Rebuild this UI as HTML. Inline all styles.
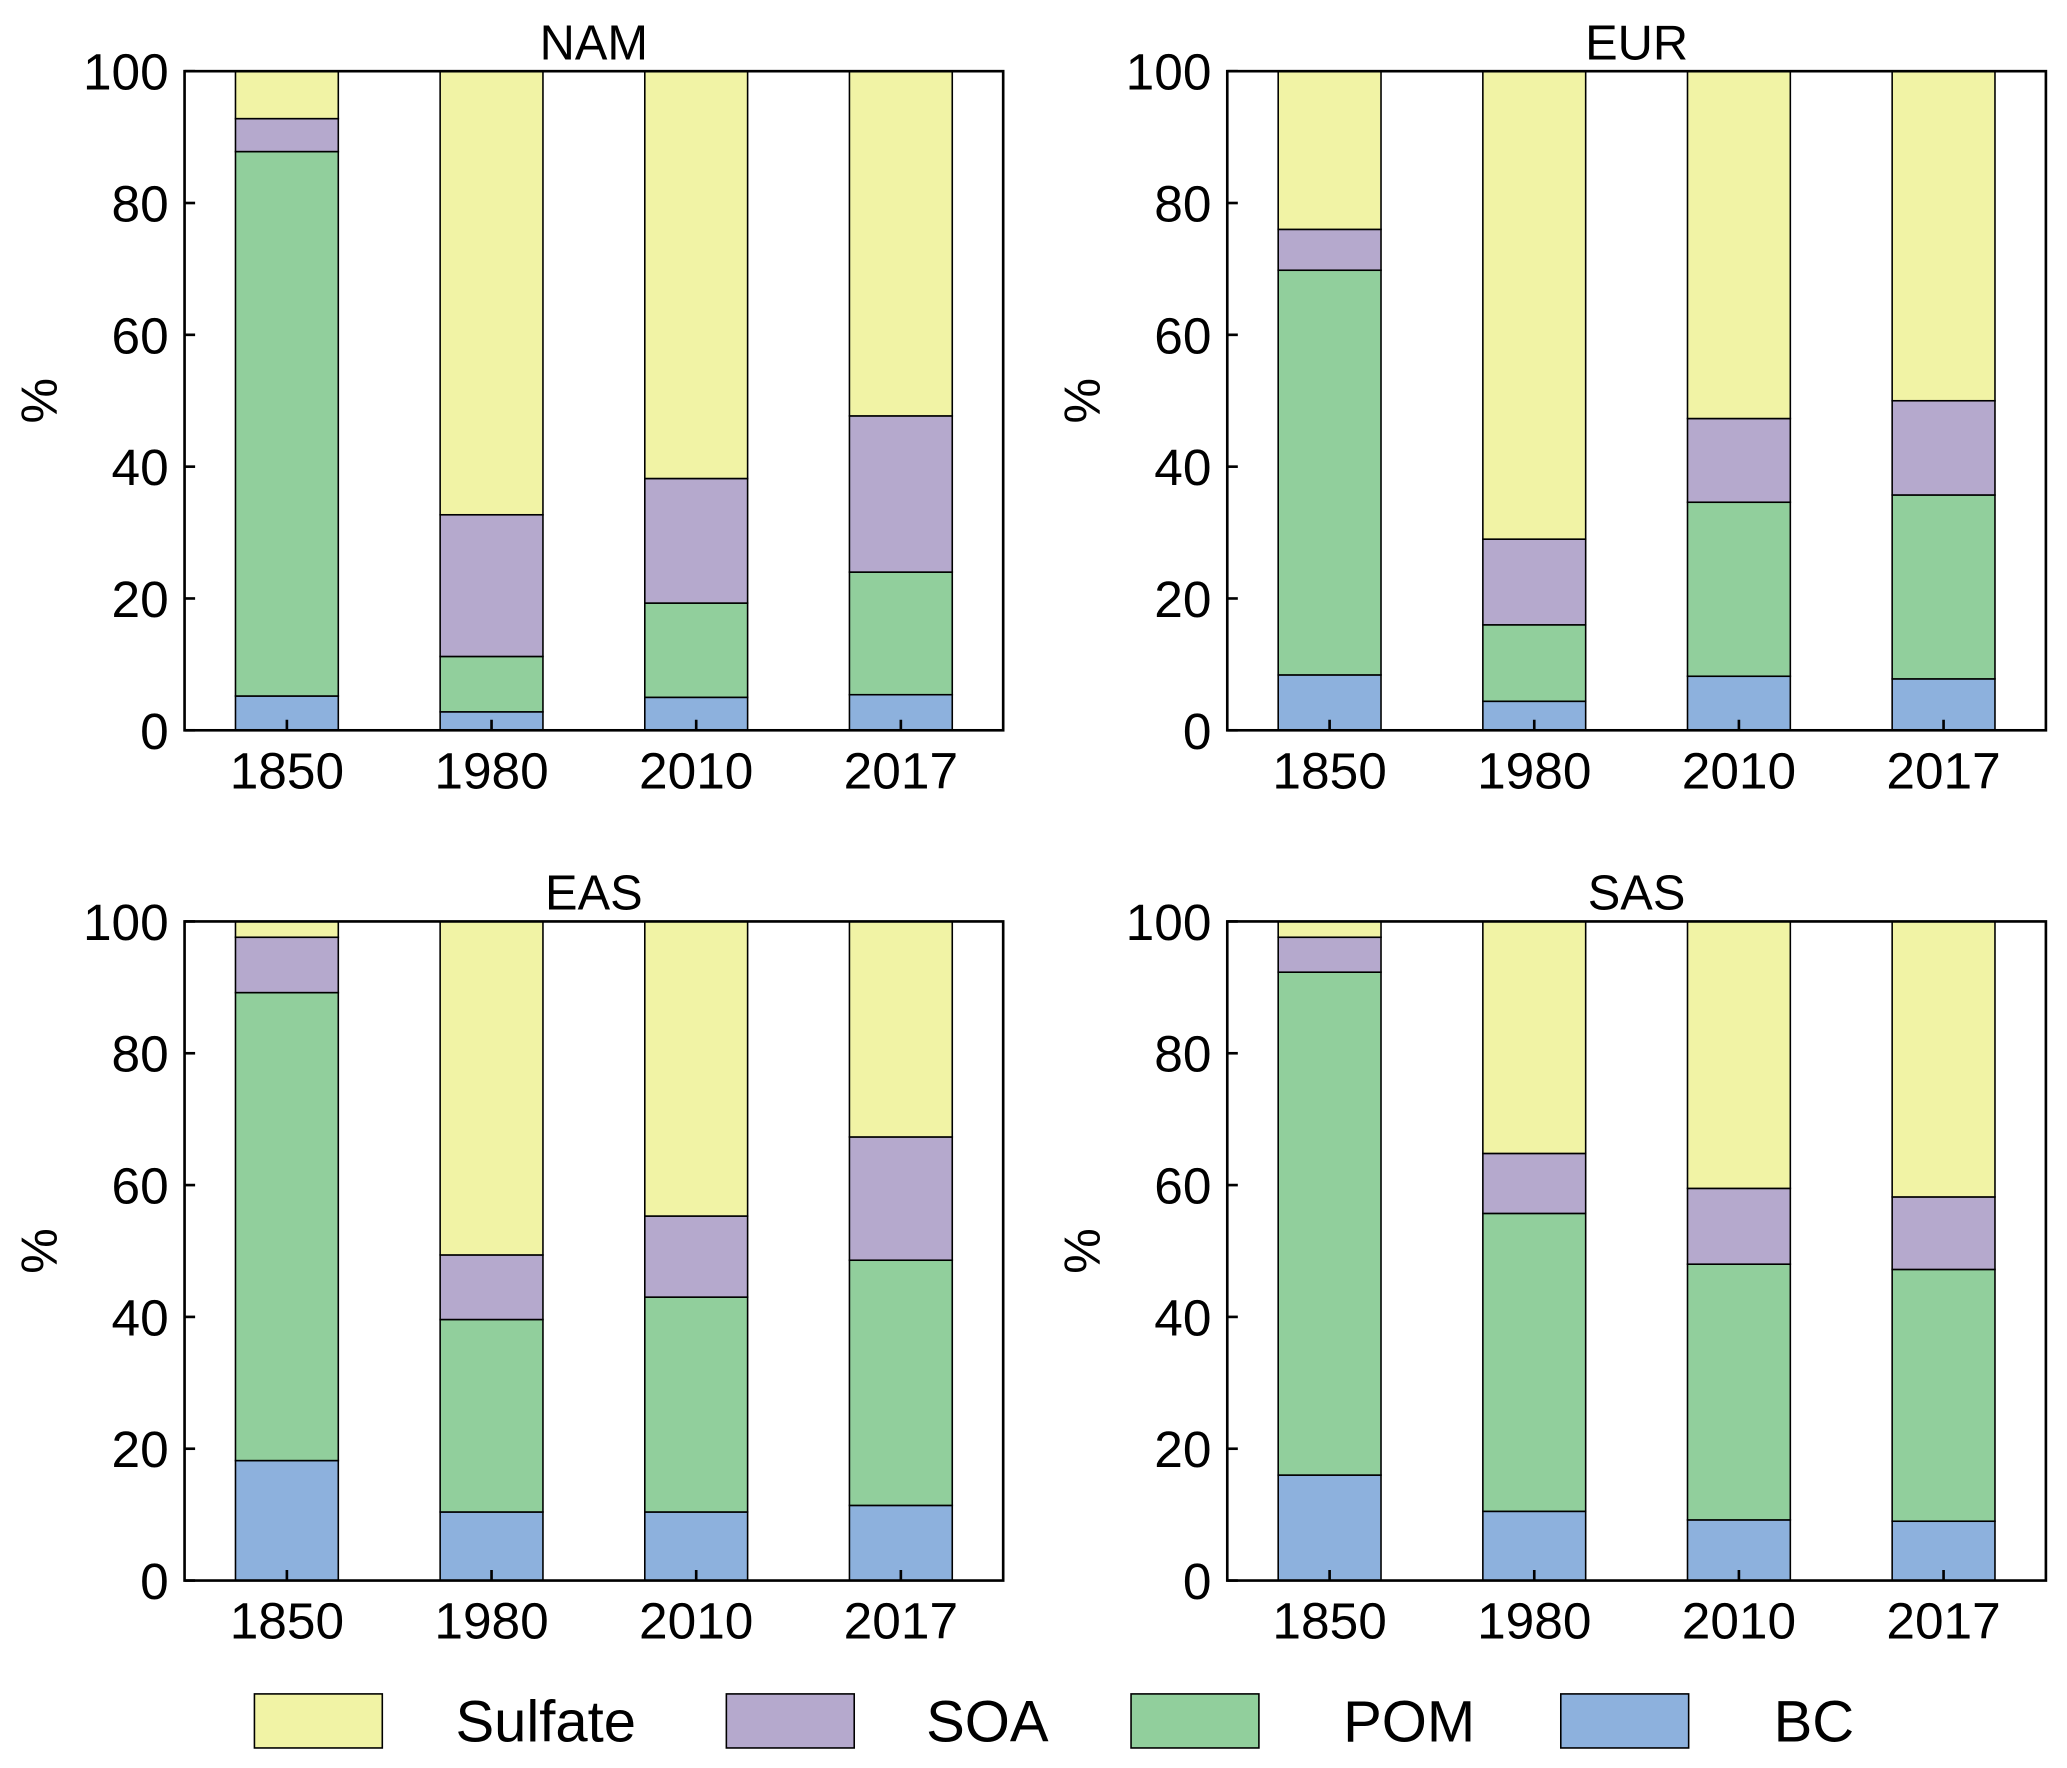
<!DOCTYPE html>
<html><head><meta charset="utf-8"><style>
html,body{margin:0;padding:0;background:#fff;}
svg{display:block;font-family:"Liberation Sans",Arial,sans-serif;}
</style></head><body>
<svg id="chart" width="2067" height="1768" viewBox="0 0 1568 1341.2" xmlns="http://www.w3.org/2000/svg"></svg>
<script>
const years = ["1850","1980","2010","2017"];
const regions = ["NAM","EUR","EAS","SAS"];
const species = ["BC","POM","SOA","Sulfate"];
const yTicks = [0,20,40,60,80,100];
// stacked component values (%), per region: BC, POM, SOA, Sulfate
const bcNAM = [5.2,2.8,5.0,5.4];
const pomNAM = [82.6,8.4,14.3,18.6];
const soaNAM = [5.0,21.5,18.9,23.7];
const sulNAM = [7.2,67.3,61.8,52.3];
const bcEUR = [8.4,4.4,8.2,7.8];
const pomEUR = [61.4,11.6,26.4,27.9];
const soaEUR = [6.2,13.0,12.7,14.3];
const sulEUR = [24.0,71.0,52.7,50.0];
const bcEAS = [18.2,10.4,10.4,11.4];
const pomEAS = [71.0,29.2,32.6,37.2];
const soaEAS = [8.4,9.8,12.3,18.7];
const sulEAS = [2.4,50.6,44.7,32.7];
const bcSAS = [16.0,10.5,9.2,9.0];
const pomSAS = [76.3,45.2,38.8,38.2];
const soaSAS = [5.3,9.1,11.5,11.0];
const sulSAS = [2.4,35.2,40.5,41.8];

const dataByRegion = {
  NAM:[bcNAM,pomNAM,soaNAM,sulNAM],
  EUR:[bcEUR,pomEUR,soaEUR,sulEUR],
  EAS:[bcEAS,pomEAS,soaEAS,sulEAS],
  SAS:[bcSAS,pomSAS,soaSAS,sulSAS]
};
const colors = {BC:"#8db1dd",POM:"#91cf9c",SOA:"#b5a9cd",Sulfate:"#f1f3a5"};
const panels = [
  {r:"NAM",x0:140,x1:761,y0:54,y1:554},
  {r:"EUR",x0:931,x1:1552,y0:54,y1:554},
  {r:"EAS",x0:140,x1:761,y0:699,y1:1199},
  {r:"SAS",x0:931,x1:1552,y0:699,y1:1199}
];
const NS="http://www.w3.org/2000/svg";
const svg=document.getElementById('chart');
function mk(tag,attrs,parent){const e=document.createElementNS(NS,tag);for(const k in attrs)e.setAttribute(k,attrs[k]);(parent||svg).appendChild(e);return e;}

panels.forEach(p=>{
  const g=mk('g',{});
  
  
  const yS=v=>p.y1-(v/100)*(p.y1-p.y0);
  const step=(p.x1-p.x0)/years.length;
  const xS=i=>p.x0+step*(i+0.5);
  const bw=78;
  const d=dataByRegion[p.r];
  years.forEach((yr,i)=>{
    let cum=0;
    species.forEach((sp,k)=>{
      const v=d[k][i];
      const r=mk('rect',{x:xS(i)-bw/2,y:yS(cum+v),width:bw,height:yS(cum)-yS(cum+v),fill:colors[sp],stroke:"#000","stroke-width":1.2},g);
      
      
      cum+=v;
    });
    const t=mk('text',{x:xS(i),y:p.y1+44,"text-anchor":"middle","font-size":39},g);
    t.textContent=yr;
    
    
  });
  const fr=mk('rect',{x:p.x0,y:p.y0,width:p.x1-p.x0,height:p.y1-p.y0,fill:"none",stroke:"#000","stroke-width":2},g);
  
  
  yTicks.forEach(v=>{
    mk('line',{x1:p.x0,x2:p.x0+8,y1:yS(v),y2:yS(v),stroke:"#000","stroke-width":2},g);
    const t=mk('text',{x:p.x0-12,y:yS(v)+14,"text-anchor":"end","font-size":39},g);
    t.textContent=v;
    
    
  });
  for(let i=0;i<years.length;i++){mk('line',{x1:xS(i),x2:xS(i),y1:p.y1,y2:p.y1-8,stroke:"#000","stroke-width":2},g);}
  const yl=mk('text',{x:0,y:0,"text-anchor":"middle","font-size":39,transform:`translate(${p.x0-97},${(p.y0+p.y1)/2}) rotate(-90)`},g);
  yl.textContent="%";
  
  
  const tt=mk('text',{x:(p.x0+p.x1)/2,y:p.y0-9,"text-anchor":"middle","font-size":37},g);
  tt.textContent=p.r;
  
  
});

const legendItems=[["Sulfate",193,414],["SOA",551,749],["POM",858,1069],["BC",1184,1376]];
legendItems.forEach(([n,bx,tx])=>{
  const g=mk('g',{});
  
  
  mk('rect',{x:bx,y:1285,width:97,height:41,fill:colors[n],stroke:"#000","stroke-width":1.2},g);
  const t=mk('text',{x:tx,y:1321,"text-anchor":"middle","font-size":44},g);
  t.textContent=n;
});
</script>
</body></html>
